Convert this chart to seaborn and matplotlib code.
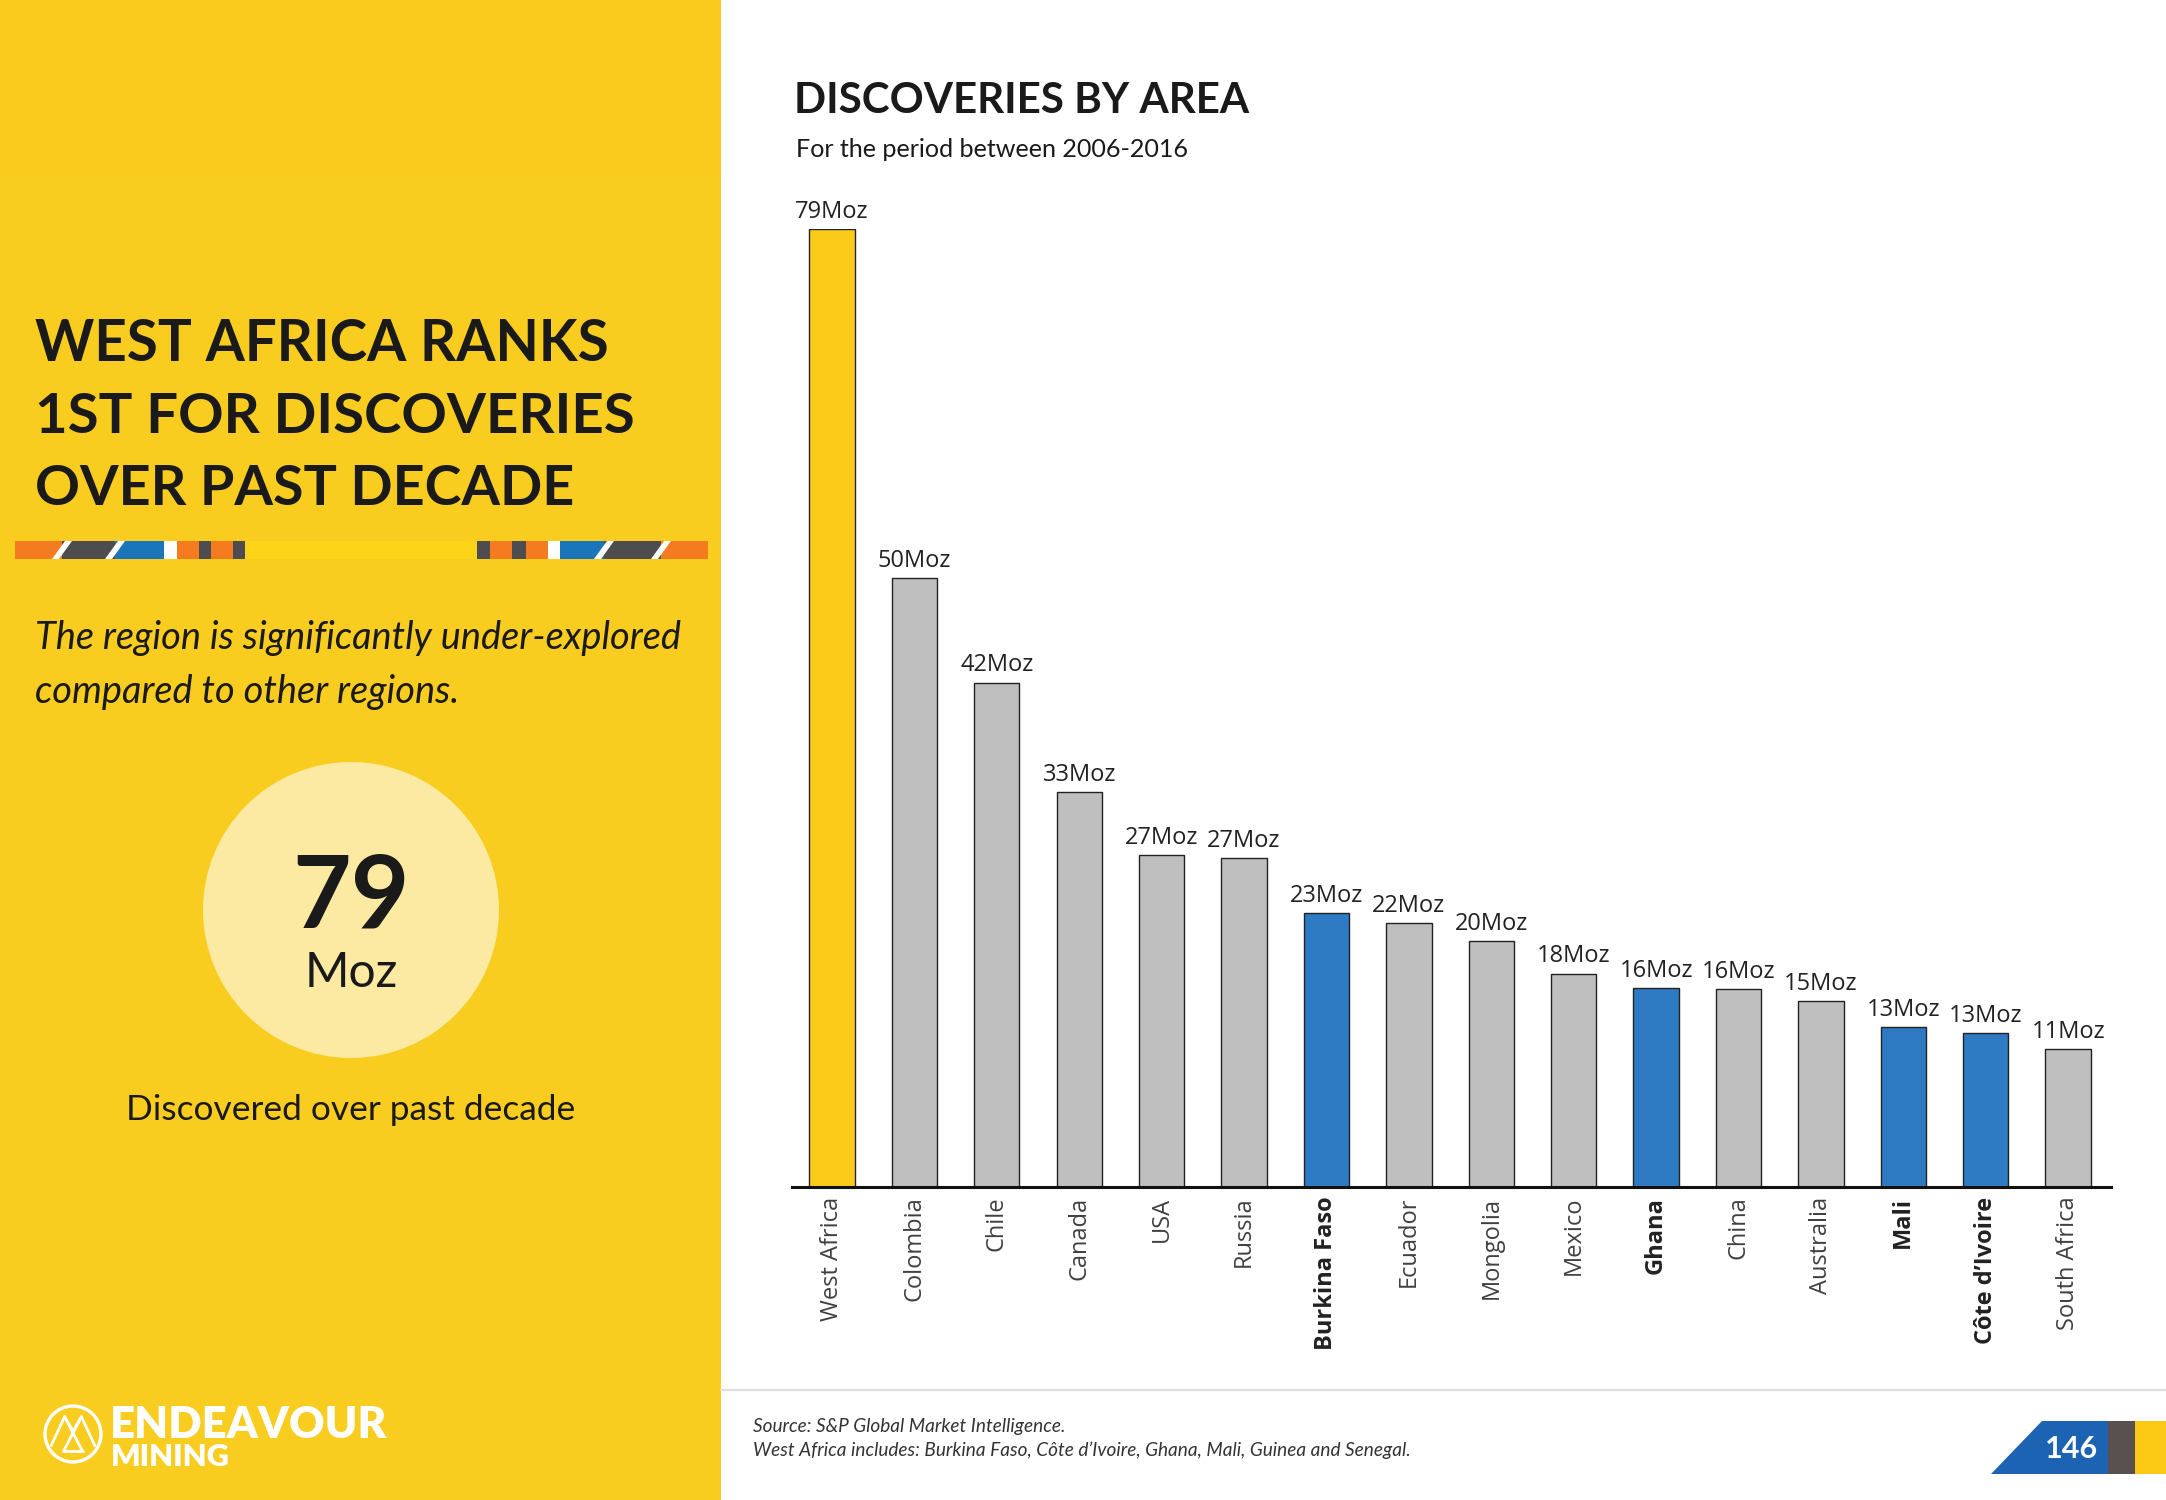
import matplotlib
matplotlib.use("Agg")
import matplotlib.pyplot as plt
import seaborn as sns
import pandas as pd
from matplotlib.patches import Rectangle, Circle, Polygon

# ---------------- data ----------------
areas = ["West Africa", "Colombia", "Chile", "Canada", "USA", "Russia",
         "Burkina Faso", "Ecuador", "Mongolia", "Mexico", "Ghana", "China",
         "Australia", "Mali", "Côte d’Ivoire", "South Africa"]
moz = [79.0, 50.2, 41.6, 32.6, 27.4, 27.1, 22.6, 21.8, 20.3, 17.6, 16.4,
       16.3, 15.3, 13.2, 12.7, 11.4]
highlight = ["West Africa"]
west_africa_members = ["Burkina Faso", "Ghana", "Mali", "Côte d’Ivoire"]

title = "DISCOVERIES BY AREA"
subtitle = "For the period between 2006-2016"
headline = ["WEST AFRICA RANKS", "1ST FOR DISCOVERIES", "OVER PAST DECADE"]
blurb = ["The region is significantly under-explored", "compared to other regions."]
big_number = "79"
big_unit = "Moz"
big_caption = "Discovered over past decade"
source_lines = ["Source: S&P Global Market Intelligence.",
                "West Africa includes: Burkina Faso, Côte d’Ivoire, Ghana, Mali, Guinea and Senegal."]
page_no = "146"

# ---------------- colours ----------------
YELLOW = "#F9CC20"
YELLOW_TOP = "#FACB1C"
YELLOW_BRIGHT = "#FDD417"
CIRCLE = "#FCE9A2"
GREY_BAR = "#BFBFBF"
BLUE_BAR = "#2E7BC4"
ORANGE = "#F47B20"
DARK = "#4D4D4F"
STRIPE_BLUE = "#1B75BB"
INK = "#1A1A1A"
FONT = ["Lato", "DejaVu Sans"]

W, H = 2166, 1500
fig = plt.figure(figsize=(W / 100, H / 100), dpi=100)
fig.patch.set_facecolor("white")

bg = fig.add_axes([0, 0, 1, 1])
bg.set_xlim(0, W)
bg.set_ylim(H, 0)
bg.axis("off")

renderer = fig.canvas.get_renderer()


def fit(x, y, s, width, ha="left", va="baseline", **kw):
    t = bg.text(x, y, s, fontsize=20, ha=ha, va=va, **kw)
    bw = t.get_window_extent(renderer).width
    t.set_fontsize(20 * width / bw)
    return t


# ---------------- left panel ----------------
bg.add_patch(Rectangle((0, 0), 721, H, facecolor=YELLOW, edgecolor="none", zorder=0))
bg.add_patch(Rectangle((0, 0), 721, 176, facecolor=YELLOW_TOP, edgecolor="none", zorder=0))

hl_widths = [574, 600, 540]
for line, base, w in zip(headline, [361, 433, 505], hl_widths):
    fit(35, base, line, w, family=FONT, fontweight="bold", color=INK)

# decorative stripe
y0, y1 = 541, 559
segments = [
    (15, 62, ORANGE), (62, 115, DARK), (115, 164, STRIPE_BLUE), (164, 177, "white"),
    (177, 199, ORANGE), (199, 211, DARK), (211, 233, ORANGE), (233, 245, DARK),
    (245, 477, YELLOW_BRIGHT),
    (477, 490, DARK), (490, 512, ORANGE), (512, 526, DARK), (526, 548, ORANGE),
    (548, 560, "white"), (560, 604, STRIPE_BLUE), (604, 661, DARK), (661, 708, ORANGE),
]
for a, b, c in segments:
    bg.add_patch(Rectangle((a, y0), b - a, y1 - y0, facecolor=c, edgecolor="none", zorder=1))
for cx in [62, 115, 604, 661]:
    bg.add_patch(Polygon([(cx - 10, y1), (cx - 3, y1), (cx + 10, y0), (cx + 3, y0)],
                         closed=True, facecolor="white", edgecolor="none", zorder=2))

b1 = fit(35, 649, blurb[0], 646, family=FONT, style="italic", color=INK)
bg.text(35, 703, blurb[1], family=FONT, style="italic", color=INK,
        va="baseline", ha="left", fontsize=b1.get_fontsize())

bg.add_patch(Circle((351, 910), 148, facecolor=CIRCLE, edgecolor="none", zorder=1))
fit(351, 927, big_number, 117, ha="center", family=FONT, fontweight="bold", color=INK, zorder=3)
fit(351, 987, big_unit, 93, ha="center", family=FONT, color=INK, zorder=3)
fit(351, 1120, big_caption, 450, ha="center", family=FONT, color=INK)

# logo emblem
ex, ey, er = 73, 1434, 28
bg.add_patch(Circle((ex, ey), er, facecolor="none", edgecolor="white", lw=2.4, zorder=3))
P1, P2 = (-0.3, -0.62), (0.3, -0.62)
logo_lines = [
    [(-0.78, 0.42), P1, (0.0, -0.1), P2, (0.78, 0.42)],
    [P1, (0.34, 0.62)],
    [P2, (-0.34, 0.62)],
    [(-0.34, 0.62), (0.34, 0.62)],
]
for seg in logo_lines:
    bg.plot([ex + er * p[0] for p in seg], [ey + er * p[1] for p in seg],
            color="white", lw=2.0, zorder=3, solid_capstyle="round")
fit(110, 1438, "ENDEAVOUR", 277, family=FONT, fontweight="heavy", color="white")
fit(111, 1466, "MINING", 120, family=FONT, fontweight="heavy", color="white")

# ---------------- right side text ----------------
fit(794, 113, title, 456, family=FONT, fontweight="bold", color=INK)
fit(796, 157, subtitle, 393, family=FONT, color=INK)

bg.plot([721, W], [1390, 1390], color="#DDDDDD", lw=1.5, zorder=1)
s1 = fit(753, 1456, source_lines[1], 657, family=FONT, style="italic", color="#333333")
bg.text(753, 1432, source_lines[0], family=FONT, style="italic",
        color="#333333", va="baseline", ha="left", fontsize=s1.get_fontsize())

# page number box
bg.add_patch(Polygon([(1991, 1474), (2042, 1421), (2108, 1421), (2108, 1474)], closed=True,
                     facecolor="#1D63B4", edgecolor="none", zorder=2))
bg.add_patch(Rectangle((2108, 1421), 27, 53, facecolor="#58514F", edgecolor="none", zorder=2))
bg.add_patch(Rectangle((2135, 1421), 31, 53, facecolor="#FCC816", edgecolor="none", zorder=2))
bg.text(2072, 1458, page_no, ha="center", va="baseline", family=FONT,
        fontweight="bold", color="white", fontsize=22, zorder=3)

# ---------------- bar chart ----------------
left, right, base_px, top_px = 792, 2111, 1187, 229
ax = fig.add_axes([left / W, 1 - base_px / H, (right - left) / W, (base_px - top_px) / H])
ax.patch.set_alpha(0)

df = pd.DataFrame({"area": areas, "moz": moz})
palette = {}
for a in areas:
    if a in highlight:
        palette[a] = "#FCCB19"
    elif a in west_africa_members:
        palette[a] = BLUE_BAR
    else:
        palette[a] = GREY_BAR

sns.barplot(data=df, x="area", y="moz", hue="area", palette=palette, legend=False,
            width=0.55, edgecolor="#222222", linewidth=1.0, saturation=1, ax=ax)

ax.set_xlim(-0.485, 15.52)
ax.set_ylim(0, 79)
ax.set_xlabel("")
ax.set_ylabel("")
ax.set_yticks([])
for sp in ["top", "right", "left"]:
    ax.spines[sp].set_visible(False)
ax.spines["bottom"].set_linewidth(2.2)
ax.spines["bottom"].set_color("#111111")
ax.spines["bottom"].set_zorder(5)

ax.set_xticks(range(len(areas)))
ax.set_xticklabels(areas, rotation=90, fontsize=17, color="#404040",
                   family=["Open Sans", "DejaVu Sans"])
ax.tick_params(axis="x", length=0, pad=7)
for lab in ax.get_xticklabels():
    if lab.get_text() in west_africa_members:
        lab.set_fontweight("bold")
        lab.set_color("#222222")

for i, v in enumerate(moz):
    ax.annotate(f"{round(v)}Moz", (i, v), xytext=(0, 8), textcoords="offset points",
                ha="center", va="baseline", fontsize=17, color="#222222",
                family=["Open Sans", "DejaVu Sans"], annotation_clip=False)

fig.savefig("out.png", dpi=100)
